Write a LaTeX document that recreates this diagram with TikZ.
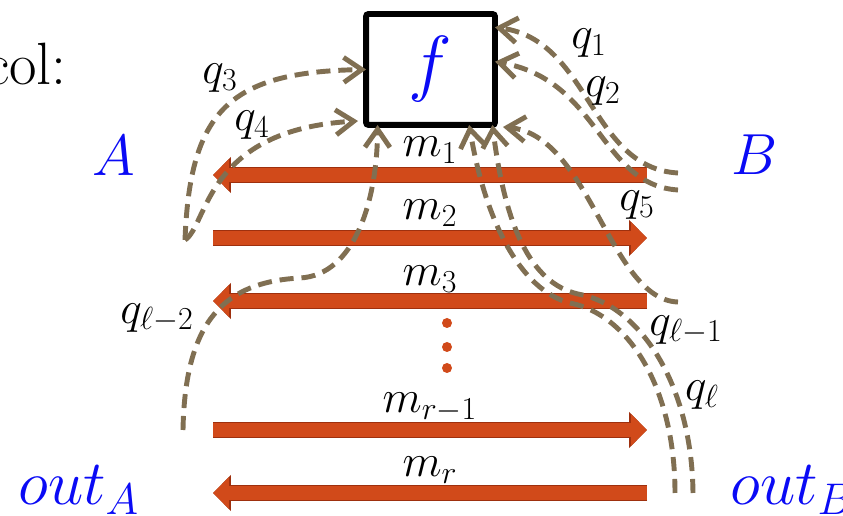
\RequirePackage{fix-cm}
\documentclass[tikz,border=0pt]{standalone}
\usetikzlibrary{arrows.meta,calc}
\definecolor{msgfill}{RGB}{209,74,26}
\definecolor{msgedge}{RGB}{158,48,14}
\definecolor{qbrown}{RGB}{128,111,82}
\definecolor{pblue}{RGB}{10,10,245}
\tikzset{
  fbox/.style={
    draw=black,
    line width=3.4pt,
    rounded corners=1.5pt,
    outer sep=0pt,
    minimum width=2.58cm,
    minimum height=2.22cm,
    text=pblue,
    font=\fontsize{42}{42}\selectfont
  },
  party/.style={text=pblue, inner sep=0pt, font=\fontsize{33}{33}\selectfont},
  outlbl/.style={party, anchor=base west, font=\fontsize{36}{36}\selectfont},
  lbl/.style={inner sep=0pt, font=\fontsize{26}{26}\selectfont},
  msg/.style={draw=msgfill, line width=8pt, -{Triangle[length=0.32cm,width=0.62cm]},
    preaction={draw=msgedge, line width=9.6pt, -{Triangle[length=0.36cm,width=0.7cm]}}},
  query/.style={draw=qbrown, line width=2.8pt, dash pattern=on 8pt off 4.5pt,
    -{Straight Barb[length=0.36cm,width=0.5cm]}}
}

\begin{document}
\begin{tikzpicture}[x=0.02cm, y=-0.02cm]
    \useasboundingbox (0,0) rectangle (843,516);
    \clip (0,0) rectangle (843,516);
    \node[anchor=base east, inner sep=0pt, font=\fontsize{34}{34}\selectfont] (proto) at (67,85) {col:};
    \node[fbox] (f) at (430.5,69.5) {$f$};
    \node[party] (A) at (114,156) {$A$};
    \node[party] (B) at (755,155) {$B$};
    \node[outlbl] (outA) at (18,505) {$out_A$};
    \node[outlbl] (outB) at (730,505) {$out_B$};
    % messages between A and B
    \foreach \n/\y in {1/175,2/238,3/301,4/430,5/493}{
      \coordinate (l\n) at (213,\y);
      \coordinate (r\n) at (647,\y);
    }
    \draw[msg] (r1) -- node[lbl, anchor=base, yshift=0.36cm] (m1) {$m_1$} (l1);
    \draw[msg] (l2) -- node[lbl, anchor=base, yshift=0.36cm] (m2) {$m_2$} (r2);
    \draw[msg] (r3) -- node[lbl, anchor=base, yshift=0.3cm] (m3) {$m_3$} (l3);
    \draw[msg] (l4) -- node[lbl, anchor=base, yshift=0.34cm] (m4) {$m_{r-1}$} (r4);
    \draw[msg] (r5) -- node[lbl, anchor=base, yshift=0.32cm] (m5) {$m_r$} (l5);
    \foreach \y in {323,347,368}
      \fill[msgfill] (447,\y) circle[radius=0.1cm];
    % queries to f
    \coordinate (a0) at (185,240);
    \coordinate (a2) at (183,430);
    \coordinate (b1) at (678,173);
    \coordinate (b2) at (678,190);
    \coordinate (b5) at (678,302);
    \coordinate (o1) at (675,493);
    \coordinate (o2) at (693,493);
    \draw[query] (b1) .. controls (590,168) and (590,40) .. ($(f.north east)!0.12!(f.south east)$);
    \draw[query] (b2) .. controls (600,185) and (600,80) .. ($(f.north east)!0.43!(f.south east)$);
    \draw[query] (b5) .. controls (610,300) and (590,135) .. ($(f.south east)+(8,2)$);
    \draw[query] (a0) .. controls (190,110) and (230,72) .. (f.west);
    \draw[query] (a0) .. controls (208,225) and (205,130) .. ($(f.south west)+(-8,-4)$);
    \draw[query] (a2) .. controls (185,320) and (225,282) .. (300,278)
      .. controls (355,275) and (377,200) .. ($(f.south west)!0.09!(f.south east)$);
    \draw[query] (o1) .. controls (675,390) and (630,315) .. (570,303)
      .. controls (520,290) and (485,220) .. ($(f.south west)!0.8!(f.south east)$);
    \draw[query] (o2) .. controls (692,385) and (640,305) .. (578,294)
      .. controls (530,283) and (505,225) .. ($(f.south west)!0.98!(f.south east)$);
    \node[lbl] (q1) at (589,43) {$q_1$};
    \node[lbl] (q2) at (603,91) {$q_2$};
    \node[lbl] (q3) at (220,78) {$q_3$};
    \node[lbl] (q4) at (252,125) {$q_4$};
    \node[lbl] (q5) at (637,205) {$q_5$};
    \node[lbl] (q6) at (157,318) {$q_{\ell-2}$};
    \node[lbl] (q7) at (686,330) {$q_{\ell-1}$};
    \node[lbl] (q8) at (702,395) {$q_\ell$};
\end{tikzpicture}
\end{document}
